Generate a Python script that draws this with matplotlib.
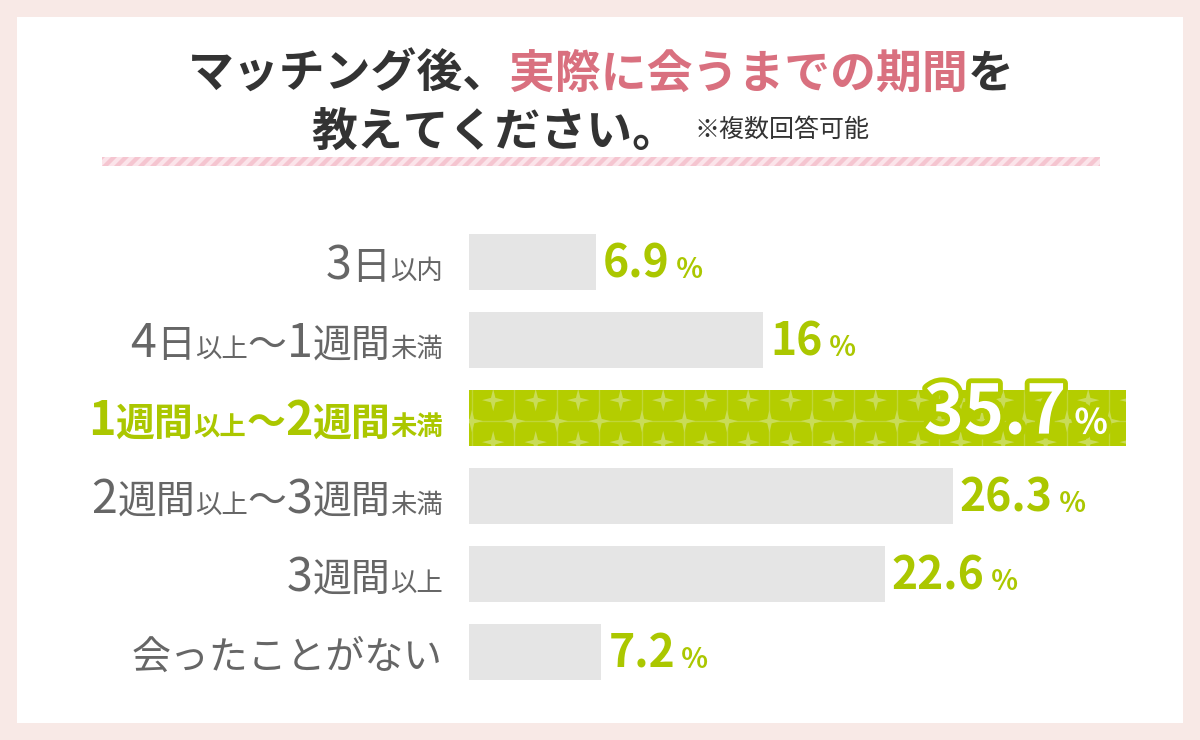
import re
import matplotlib
matplotlib.use("Agg")
import matplotlib.pyplot as plt
from matplotlib.patches import Rectangle, Polygon
from matplotlib.path import Path
from matplotlib.transforms import IdentityTransform
import matplotlib.patheffects as pe

# data
values = [6.9, 16, 35.7, 26.3, 22.6, 7.2]
value_text = ["6.9", "16", "35.7", "26.3", "22.6", "7.2"]
# category labels split in (text, size) pieces: b = big, s = small
label_pieces = [
    [("3日", "b"), ("以内", "s")],
    [("4日", "b"), ("以上", "s"), ("〜1週間", "b"), ("未満", "s")],
    [("1週間", "b"), ("以上", "s"), ("〜2週間", "b"), ("未満", "s")],
    [("2週間", "b"), ("以上", "s"), ("〜3週間", "b"), ("未満", "s")],
    [("3週間", "b"), ("以上", "s")],
    [("会ったことがない", "b")],
]
highlight = 2

FONT = ["Noto Sans CJK JP", "DejaVu Sans"]
GREEN = "#b4cd00"
TXT_GREEN = "#abc700"
GRAY_BAR = "#e5e5e5"
GRAY_TXT = "#666666"
DARK = "#333333"
PINK = "#d9707f"
W, H = 1200, 740

fig = plt.figure(figsize=(12, 7.4), dpi=100, facecolor="#f8e9e6")
fig.patches.append(Rectangle((17 / W, 17 / H), 1166 / W, 706 / H, transform=fig.transFigure,
                             facecolor="white", edgecolor="none", zorder=-5))
renderer = fig.canvas.get_renderer()


def row(pieces, x, y, align="left"):
    # place text pieces side by side on one baseline, x/y in pixels
    arts = [fig.text(0, 0, s, transform=IdentityTransform(), va="baseline", ha="left",
                     family=FONT, **kw) for s, kw in pieces]
    widths = [a.get_window_extent(renderer).width for a in arts]
    total = sum(widths)
    start = {"left": x, "center": x - total / 2, "right": x - total}[align]
    for a, w in zip(arts, widths):
        a.set_position((start, y))
        start += w
    return arts


# title
t_bold = dict(fontsize=33, fontweight="bold", color=DARK)
row([("マッチング後、", t_bold),
     ("実際に会うまでの期間", dict(t_bold, color=PINK)),
     ("を", t_bold)], 601, H - 88, "center")
row([("教えてください。", t_bold)], 678, H - 147, "right")
row([("※複数回答可能", dict(fontsize=18, color=DARK))], 694, H - 137, "left")

# striped divider
sax = fig.add_axes([102 / W, (H - 166) / H, 998 / W, 9 / H])
sax.set_xlim(0, 998)
sax.set_ylim(0, 9)
sax.axis("off")
sax.add_patch(Rectangle((0, 0), 998, 9, facecolor="#fbe4ea", edgecolor="none"))
for k in range(-2, 86):
    x0 = k * 12
    sax.add_patch(Polygon([(x0, 0), (x0 + 6, 0), (x0 + 15, 9), (x0 + 9, 9)],
                          closed=True, facecolor="#f5c5d0", edgecolor="none"))

# bars
ax = fig.add_axes([469 / W, (H - 691) / H, 714 / W, 468 / H])
ax.set_xlim(0, 714 / 18.4)
ax.set_ylim(5.5, -0.5)
ax.axis("off")

ys = list(range(len(values)))
colors = [GREEN if i == highlight else GRAY_BAR for i in ys]
bars = ax.barh(ys, values, height=0.72, color=colors, edgecolor="none")

# sparkle pattern on the highlighted bar
hb = bars[highlight]
star = Path([(0, 1), (0.2, 0.2), (1, 0), (0.2, -0.2), (0, -1), (-0.2, -0.2),
             (-1, 0), (-0.2, 0.2), (0, 1)], closed=True)
dx, dy = 42.5 / 18.4, 42 / 78
xs_line = [0.16 + dx * k for k in range(20) if 0.16 + dx * k < values[highlight]]
for xl in xs_line:
    ln = ax.plot([xl, xl], [highlight - 0.5, highlight + 0.5], color="#c0d638", lw=1.0, zorder=3)[0]
    ln.set_clip_path(hb)
ln = ax.plot([0, values[highlight]], [highlight + 0.04] * 2, color="#c0d638", lw=1.0, zorder=3)[0]
ln.set_clip_path(hb)
sx, sy = [], []
for xl in xs_line:
    sx.append(xl)
    sy.append(highlight + 0.04)
    for off in (-dy / 2, dy / 2):
        sx.append(xl + dx / 2)
        sy.append(highlight + 0.04 + off)
pts = ax.scatter(sx, sy, marker=star, s=260, color="#c9dc58", edgecolor="none", zorder=4)
pts.set_clip_path(hb)

# category labels (digits drawn a little larger)
for i, pieces in enumerate(label_pieces):
    px, py = ax.transData.transform((-26 / 18.4, i + 0.22))
    weight = "bold" if i == highlight else "normal"
    color = TXT_GREEN if i == highlight else GRAY_TXT
    sizes = {"b": 28, "s": 19}
    parts = []
    for s, k in pieces:
        for chunk in re.findall(r"\d+|\D+", s):
            fs = sizes[k] * (1.2 if chunk.isdigit() else 1.0)
            parts.append((chunk, dict(fontsize=fs, fontweight=weight, color=color)))
    row(parts, px, py, "right")

# value labels
for i, (v, vt) in enumerate(zip(values, value_text)):
    if i == highlight:
        px, py = ax.transData.transform((v - 18 / 18.4, i + 0.2))
        stroke = [pe.withStroke(linewidth=7, foreground=GREEN)]
        arts = row([(vt, dict(fontsize=49, fontweight="bold", color="white")),
                    (" %", dict(fontsize=25, fontweight="bold", color="white"))], px, py, "right")
        for a in arts:
            a.set_path_effects(stroke)
    else:
        px, py = ax.transData.transform((v + 7 / 18.4, i + 0.2))
        row([(vt, dict(fontsize=32, fontweight="bold", color=TXT_GREEN)),
             (" %", dict(fontsize=20, fontweight="bold", color=TXT_GREEN))], px, py, "left")

fig.savefig("out.png", dpi=100, facecolor=fig.get_facecolor())
